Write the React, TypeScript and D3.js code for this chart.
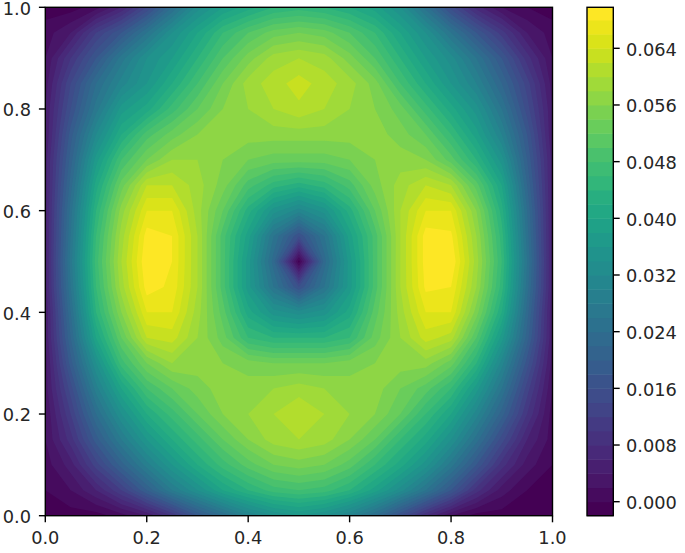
import React from "react";
import * as d3 from "d3";

const W = 685;
const H = 553;

// thousandths, rows from Y=1.0 down to Y=0.0, columns X=0.0 to 1.0 (step 0.05)
const fieldRows: number[][] = [
  [-1,-1,1,6,14,24,33,38,41,44,45,44,42,39,34,25,15,7,2,0,-1],
  [1,4,12,18,26,34,40,46,50,53,54,53,50,46,40,34,26,18,11,4,1],
  [2,10,18,27,34,38,44,50,55,59,60,59,55,50,44,38,33,26,18,9,2],
  [3,14,24,31,36,42,48,54,59,61,63,61,59,55,48,42,36,30,22,13,3],
  [4,16,27,37,41,47,52,56,58,60,61.5,60,58,56,53,47,41,35,26,15,4],
  [4,19,32,42,49,53,56,57,57,57,57,57,57,57,55,52,46,39,30,18,4],
  [5,21,37,48,54,58,58,56,54,53,53,53,54,56,57,56,51,44,35,20,5],
  [5,23,41,53,62,62,59,55,49,45,43,45,49,55,59,62,60,51,40,22,5],
  [5,25,44,57,66,66,59,52,43,35,31,35,43,52,60,66,66,56,43,24,5],
  [5,26,46,59,69,68,60,49,39,26,16,26,39,49,60,69,68.5,58,45,25,5],
  [5,27,47,60,70,68,60,49,37,23,-1,23,37,49,60,69,70,59,46,26,5],
  [5,26,46,59,69,67.5,60,49,37,26,16,26,37,49,60,68.5,68,58,45,25,5],
  [4,24,44,56,66,66,59,51,41,35,33,35,41,51,59,66,66,55,42,23,4],
  [4,22,40,52,62,63,58,53,46,44,44,44,46,53,58,63,61,50,37,21,4],
  [3,19,34,47,54,58,57,56,55,54,54,54,55,56,57,57,53,44,31,17,3],
  [3,15,29,40,48,52,55,57,57,58,59,58,57,57,54,51,46,37,26,13,2],
  [2,12,24,34,42,47,52,56,58,60,62,60,58,56,52,46,40,31,21,10,1],
  [2,9,19,28,36,42,47,52,56,59,60,59,56,52,46,41,34,25,15,6,1],
  [1,5,13,21,29,36,42,47,51,54,55,54,51,46,41,35,27,18,9,3,0],
  [0,2,6,12,20,28,34,40,44,47,48,47,44,39,33,26,18,9,3,0,-1],
  [-1,-1,-1,1,4,10,18,24,30,34,36,34,30,24,16,8,2,-1,-1,-1,-1],
];

const axisTicks = [0, 0.2, 0.4, 0.6, 0.8, 1.0];
const colorbarTicks = [0, 0.008, 0.016, 0.024, 0.032, 0.04, 0.048, 0.056, 0.064];
const levelLow = -2;
const levelHigh = 70;
const levelStep = 2;
const titleText = "Density Image";

const FONT = "'DejaVu Sans', sans-serif";
const FS = 17.8;
const INK = "#262626";

export default function App() {
  const xs = d3.scaleLinear().domain([0, 1]).range([45.3, 552.5]);
  const ys = d3.scaleLinear().domain([0, 1]).range([515.7, 7.3]);
  const cb = d3.scaleLinear().domain([0, 0.064]).range([501.7, 48.3]);

  const n = fieldRows.length;
  const m = fieldRows[0].length;
  const flat = fieldRows.flat();
  const lowers = d3.range(levelLow, levelHigh, levelStep);
  const colorOf = (i: number) => d3.interpolateViridis(i / (lowers.length - 1));

  const contours = d3.contours().size([m, n]).smooth(true);
  const projection = d3.geoTransform({
    point(px: number, py: number) {
      const X = (px - 0.5) / (m - 1);
      const Y = 1 - (py - 0.5) / (n - 1);
      (this as any).stream.point(xs(X), ys(Y));
    },
  });
  const path = d3.geoPath(projection);

  const spine = { fill: "none", stroke: "#000", strokeWidth: 1.4 };
  const px0 = xs(0), px1 = xs(1), py0 = ys(0), py1 = ys(1);
  const cx0 = 587, cx1 = 613.3, cTop = 7.3, cBottom = 515.7;
  const cy = (v: number) => Math.min(cBottom, Math.max(cTop, cb(v)));

  return (
    <svg
      width={W}
      height={H}
      viewBox={`0 0 ${W} ${H}`}
      style={{ position: "fixed", left: 0, top: 0, background: "#fff" }}
      fontFamily={FONT}
    >
      <defs>
        <clipPath id="plot">
          <rect x={px0} y={py1} width={px1 - px0} height={py0 - py1} />
        </clipPath>
      </defs>

      <text x={334} y={-3.6} textAnchor="end" fontSize={21} fill={INK}>{titleText}</text>

      <g clipPath="url(#plot)">
        <rect x={px0} y={py1} width={px1 - px0} height={py0 - py1} fill={colorOf(0)} />
        {lowers.map((lv, i) =>
          i === 0 ? null : (
            <path key={lv} d={path(contours.contour(flat, lv) as any) || ""} fill={colorOf(i)} />
          )
        )}
      </g>
      <rect x={px0} y={py1} width={px1 - px0} height={py0 - py1} {...spine} />

      {axisTicks.map((t) => (
        <g key={`x${t}`}>
          <line x1={xs(t)} x2={xs(t)} y1={py0} y2={py0 + 6.6} stroke="#000" strokeWidth={1.4} />
          <text x={xs(t)} y={py0 + 28.6} textAnchor="middle" fontSize={FS} fill={INK}>{t.toFixed(1)}</text>
        </g>
      ))}
      {axisTicks.map((t) => (
        <g key={`y${t}`}>
          <line x1={px0} x2={px0 - 6.4} y1={ys(t)} y2={ys(t)} stroke="#000" strokeWidth={1.4} />
          <text x={31} y={ys(t) + 7.2} textAnchor="end" fontSize={FS} fill={INK}>{t.toFixed(1)}</text>
        </g>
      ))}

      {lowers.map((lv, i) => {
        const top = cy((lv + levelStep) / 1000);
        const bottom = cy(lv / 1000);
        return (
          <rect
            key={`band${lv}`}
            x={cx0}
            width={cx1 - cx0}
            y={top}
            height={Math.max(0, bottom - top + 0.5)}
            fill={colorOf(i)}
          />
        );
      })}
      <rect x={cx0} y={cTop} width={cx1 - cx0} height={cBottom - cTop} {...spine} />
      {colorbarTicks.map((t) => (
        <g key={`c${t}`}>
          <line x1={cx1} x2={cx1 + 6.4} y1={cb(t)} y2={cb(t)} stroke="#000" strokeWidth={1.4} />
          <text x={626} y={cb(t) + 7.4} fontSize={FS} fill={INK}>{t.toFixed(3)}</text>
        </g>
      ))}
    </svg>
  );
}
